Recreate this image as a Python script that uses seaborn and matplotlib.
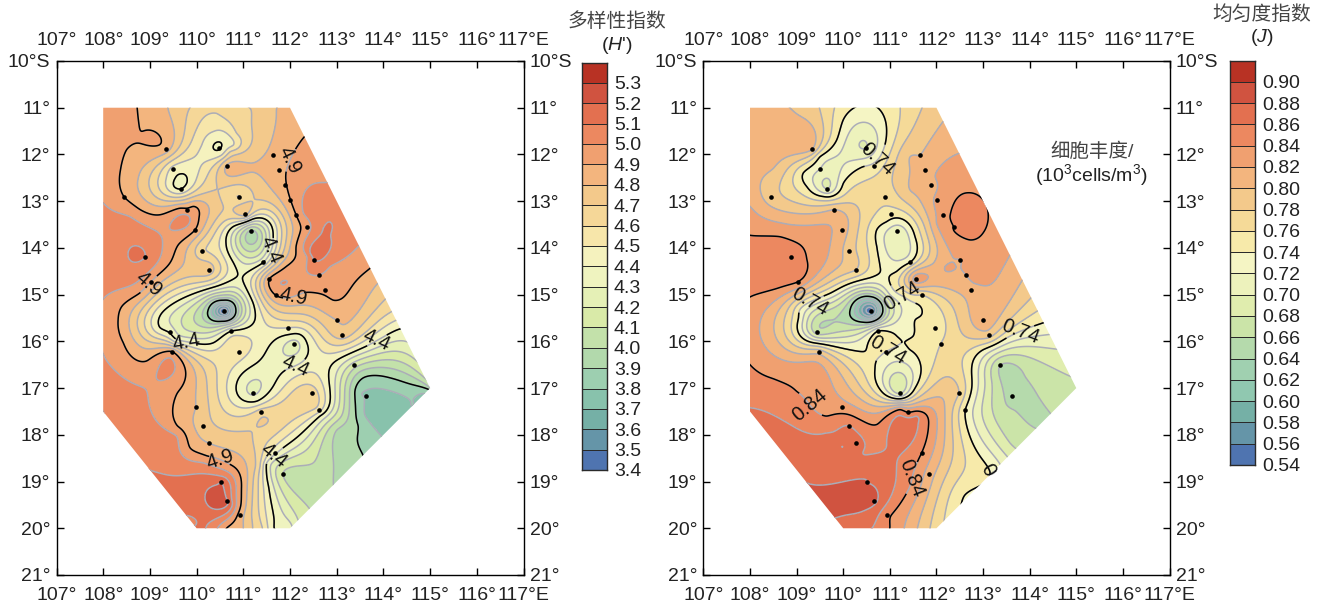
# Diversity and evenness maps, stations plus contour lines.

import numpy as np
import pandas as pd
import seaborn as sns
import matplotlib
matplotlib.use('Agg')
import matplotlib.pyplot as plt
from matplotlib.patches import Polygon

sns.set_theme(style='white')
plt.rcParams['font.family'] = ['Liberation Sans', 'Noto Sans CJK SC', 'DejaVu Sans']
plt.rcParams['mathtext.fontset'] = 'custom'
plt.rcParams['mathtext.rm'] = 'Liberation Sans'
plt.rcParams['mathtext.it'] = 'Liberation Sans:italic'

W, H = 1324, 606

# stations
station_lon = [109.34, 110.49, 109.50, 109.66, 108.45, 110.66, 111.64, 111.76, 111.89, 112.01,
               112.13, 112.37, 110.90, 111.03, 109.80, 109.97, 111.16, 110.12, 108.89, 110.27,
               111.43, 112.51, 112.63, 112.75, 111.56, 111.69, 110.59, 113.00, 113.12, 111.96,
               109.44, 110.74, 112.09, 110.91, 109.48, 113.37, 112.48, 111.21, 113.62, 109.98,
               112.62, 111.38, 110.13, 110.27, 111.85, 110.52, 110.66, 110.94, 109.02, 111.68]
station_lat = [11.89, 11.87, 12.31, 12.74, 12.91, 12.24, 12.02, 12.34, 12.66, 12.97,
               13.29, 13.55, 12.92, 13.27, 13.18, 13.61, 13.64, 14.06, 14.20, 14.47,
               14.31, 14.25, 14.58, 14.90, 14.66, 15.01, 15.36, 15.55, 15.86, 15.71,
               15.80, 15.78, 16.05, 16.22, 16.22, 16.51, 17.11, 17.10, 17.16, 17.41,
               17.46, 17.52, 17.81, 18.18, 18.83, 19.02, 19.41, 19.71, 14.73, 18.39]
h_station = [4.85, 4.39, 4.46, 4.40, 4.90, 4.82, 4.83, 4.87, 4.89, 4.90,
             4.90, 4.96, 4.60, 4.75, 4.92, 4.90, 3.98, 4.62, 5.10, 4.75,
             4.40, 5.10, 5.00, 4.92, 4.90, 4.90, 3.42, 4.80, 4.75, 4.50,
             4.38, 4.40, 4.26, 4.55, 4.90, 4.15, 4.65, 4.28, 3.80, 4.80,
             4.55, 4.66, 4.75, 4.80, 4.10, 5.20, 5.20, 4.85, 4.90, 4.42]
j_station = [0.80, 0.70, 0.72, 0.70, 0.79, 0.745, 0.80, 0.805, 0.81, 0.825,
             0.83, 0.84, 0.765, 0.75, 0.80, 0.81, 0.705, 0.79, 0.85, 0.78,
             0.74, 0.82, 0.82, 0.81, 0.83, 0.76, 0.55, 0.81, 0.79, 0.745,
             0.67, 0.74, 0.76, 0.74, 0.79, 0.66, 0.78, 0.695, 0.655, 0.83,
             0.74, 0.84, 0.86, 0.865, 0.81, 0.88, 0.885, 0.845, 0.84, 0.84]

# corner and edge readings
h_extra = [(108, 11, 4.97), (112, 11, 4.82), (108, 17.5, 5.10), (110, 20, 5.13), (112, 20, 4.35),
           (115, 17, 4.0), (110.5, 11.03, 4.66), (111.39, 18.1, 4.65), (113.9, 17.6, 3.75),
           (114.5, 17.45, 3.76), (108.2, 14.2, 5.06), (108.0, 13.8, 5.04), (108.0, 14.7, 5.04),
           (108.2, 17.0, 5.05), (108.5, 17.9, 5.07), (110.4, 19.3, 5.24), (109.77, 13.33, 5.02)]
j_extra = [(108, 11, 0.81), (112, 11, 0.79), (108, 17.5, 0.865), (110, 20, 0.87), (112, 20, 0.77),
           (115, 17, 0.675), (110.5, 11.03, 0.735), (113.6, 18.2, 0.68), (112.6, 19.3, 0.74),
           (108.5, 11.5, 0.81), (109.0, 11.3, 0.805), (108.0, 12.0, 0.805), (108.5, 12.3, 0.80),
           (110.97, 14.45, 0.735), (111.0, 15.0, 0.72)]

# contour lines, (level, [(lon, lat), ...])
h_lines = [
    (4.9, [(108.73, 11.03), (108.82, 11.51), (108.50, 11.90), (108.37, 12.33), (108.79, 13.18),
           (109.22, 13.29), (109.64, 13.15), (109.93, 13.11), (110.05, 13.36), (109.61, 13.93),
           (109.43, 14.32), (109.14, 14.61), (108.79, 14.96), (108.40, 15.25), (108.32, 15.53),
           (108.43, 16.03), (108.93, 16.42), (109.59, 17.10), (109.59, 17.81), (109.86, 18.28),
           (110.22, 18.45), (110.71, 18.63), (110.96, 19.17), (110.64, 20.0)]),
    (4.9, [(112.30, 11.63), (112.07, 11.97), (112.13, 13.97), (111.93, 14.39), (112.29, 14.96),
           (112.93, 15.12), (113.28, 14.89), (113.71, 14.44)]),
    (4.4, [(111.64, 13.75), (111.57, 13.47), (111.21, 13.38), (110.79, 13.54), (110.63, 13.90),
           (110.79, 14.32), (111.0, 14.6), (111.21, 15.18), (111.25, 15.53), (110.36, 16.03),
           (109.57, 15.96), (109.22, 15.71), (109.25, 15.40), (109.64, 15.11), (110.43, 14.82)]),
    (4.4, [(112.0, 15.85), (111.64, 16.0), (111.29, 16.46), (110.86, 16.89), (110.93, 17.21),
           (111.29, 17.28), (111.64, 16.96), (111.93, 16.60), (112.36, 16.32), (112.36, 16.03),
           (112.21, 15.85)]),
    (4.4, [(114.37, 15.73), (113.64, 16.10), (112.93, 16.46), (112.86, 17.10), (112.64, 17.6),
           (112.0, 18.17), (111.5, 18.6), (111.54, 19.1), (111.66, 20.0)]),
    (4.4, [(109.54, 12.51), (109.64, 12.42), (109.79, 12.61), (109.52, 12.69)]),
    (3.9, [(114.98, 17.03), (114.14, 16.78), (113.57, 16.78), (113.39, 17.17), (113.46, 17.81),
           (113.57, 18.45)]),
    (3.9, [(110.25, 15.32), (110.54, 15.57), (110.84, 15.32), (110.57, 15.12)]),
    (3.8, [(114.6, 17.39), (113.96, 18.03), (113.6, 17.57), (113.53, 17.13)]),
    (4.0, [(112.93, 19.06), (113.0, 17.9)]),
    (4.1, [(112.43, 19.6), (112.5, 18.6), (113.1, 17.6)]),
    (4.2, [(112.18, 19.84)]),
    (4.3, [(112.05, 20.0)]),
    (4.5, [(110.36, 11.51), (110.79, 11.8), (110.54, 12.01), (110.11, 11.80), (109.35, 12.51),
           (110.0, 12.51)]),
    (4.6, [(110.43, 11.12), (110.86, 11.55), (110.72, 11.94), (109.93, 11.62), (109.18, 12.51),
           (114.18, 15.36), (111.36, 18.67), (111.41, 20.0)]),
    (4.7, [(109.84, 11.03), (111.16, 11.03), (108.99, 12.51), (114.07, 15.07), (111.26, 18.67),
           (111.2, 20.0)]),
    (4.8, [(109.39, 11.03), (111.71, 11.03), (108.75, 12.51), (113.89, 14.75), (111.07, 18.67),
           (111.0, 20.0)]),
    (4.5, [(114.27, 15.55), (111.46, 18.55)]),
    (5.0, [(108.02, 13.06), (108.57, 13.33), (109.22, 13.72), (109.25, 14.11), (108.79, 14.68),
           (108.02, 15.07), (108.02, 16.32), (108.79, 16.96), (109.04, 17.53), (109.57, 18.03),
           (110.14, 18.6), (112.78, 12.6), (112.29, 13.26), (112.36, 14.18), (112.86, 14.40),
           (113.46, 13.97)]),
    (5.1, [(108.97, 18.74), (109.86, 18.85), (110.5, 18.88), (110.75, 19.38), (109.97, 19.95),
           (112.71, 13.58), (112.43, 14.11), (112.68, 14.25), (112.87, 13.75)]),
    (5.2, [(110.18, 19.31), (110.46, 19.06), (110.68, 19.45)]),
]

j_lines = [
    (0.84, [(108.0, 13.73), (108.64, 13.76), (109.07, 13.93), (109.22, 14.25), (109.14, 14.64),
            (108.57, 14.87), (108.0, 15.05)]),
    (0.84, [(112.36, 13.08), (112.68, 12.82), (113.0, 12.97), (113.11, 13.29), (113.0, 13.68),
            (112.72, 13.83), (112.36, 13.61), (112.29, 13.33)]),
    (0.84, [(108.0, 16.5), (108.5, 16.8), (109.0, 17.07), (109.64, 17.6), (110.29, 17.64),
            (110.72, 17.78), (111.22, 17.46), (111.65, 17.5), (111.83, 17.8), (111.43, 19.1),
            (111.07, 19.67), (111.0, 20.0)]),
    (0.74, [(110.22, 11.01), (110.9, 11.26), (110.93, 11.55), (110.86, 11.9), (110.43, 12.26),
            (110.0, 12.62), (109.57, 12.9), (109.22, 12.69), (109.14, 12.4), (109.5, 12.05),
            (109.86, 11.69), (110.0, 11.26)]),
    (0.74, [(110.72, 13.97), (110.72, 13.61), (110.93, 13.44), (111.36, 13.44), (111.54, 13.76),
            (111.5, 14.25), (111.15, 14.5), (110.79, 14.4), (110.57, 14.64), (109.72, 14.97),
            (109.07, 15.32), (109.04, 15.5), (109.04, 15.82), (109.43, 16.04), (110.14, 16.18),
            (110.47, 16.21), (111.15, 15.89), (111.5, 15.89), (111.54, 15.54), (111.4, 15.11),
            (111.29, 15.04)]),
    (0.74, [(110.79, 16.32), (110.68, 16.6), (110.79, 17.03), (111.22, 17.23), (111.54, 17.0),
            (111.67, 16.6), (111.43, 16.18)]),
    (0.74, [(114.3, 15.6), (113.5, 15.93), (113.0, 16.18), (112.76, 16.53), (112.72, 17.17),
            (113.04, 18.6), (113.15, 18.8)]),
    (0.64, [(110.15, 15.32), (110.57, 15.04), (110.85, 15.32), (110.43, 15.59)]),
    (0.86, [(108.0, 17.42), (108.86, 17.78), (109.64, 17.96), (110.07, 17.8), (110.0, 18.24),
            (110.43, 18.42), (110.93, 18.24), (111.58, 17.6), (111.61, 17.74), (111.15, 18.6),
            (111.08, 19.17), (110.65, 19.95)]),
    (0.88, [(109.22, 19.03), (110.5, 18.96), (110.75, 19.31), (110.5, 19.6), (109.86, 19.77)]),
    (0.82, [(112.58, 11.94), (111.97, 12.47), (112.0, 13.47), (112.18, 14.4), (112.79, 14.75),
            (113.58, 14.15), (108.0, 13.11), (108.86, 13.5), (109.64, 13.5)]),
    (0.80, [(112.14, 11.3), (111.43, 12.05), (111.43, 12.76), (111.86, 13.47), (111.93, 14.33),
            (113.85, 14.68)]),
    (0.76, [(114.15, 15.36)]),
    (0.72, [(112.9, 16.89)]),
    (0.70, [(113.04, 16.89)]),
    (0.68, [(113.19, 16.89)]),
    (0.66, [(113.5, 17.35), (113.67, 17.47), (114.18, 17.17), (113.9, 16.75)]),
]

region_lon = [108, 112, 115, 112, 110, 108]
region_lat = [11, 11, 17, 20, 20, 17.5]

lon_ticks = list(range(107, 118))
lat_ticks = list(range(10, 22))
lon_labels = [f'{v}°' for v in lon_ticks[:-1]] + ['117°E']
lat_labels = ['10°S'] + [f'{v}°' for v in lat_ticks[1:]]

h_levels = [3.4, 3.5, 3.6, 3.7, 3.8, 3.9, 4.0, 4.1, 4.2, 4.3, 4.4, 4.5, 4.6, 4.7, 4.8, 4.9, 5.0, 5.1, 5.2, 5.3, 5.4]
j_levels = [0.54, 0.56, 0.58, 0.60, 0.62, 0.64, 0.66, 0.68, 0.70, 0.72, 0.74, 0.76, 0.78, 0.80, 0.82, 0.84, 0.86, 0.88, 0.90, 0.92]

# low to high
h_colors = ['#4F74B0', '#6595A8', '#75B0A6', '#88C2AC', '#9DCFB0', '#B2D9AC', '#C3E1AA', '#D9EAA8',
            '#E5F0B6', '#EFF3BF', '#F5F2BE', '#F7E6AA', '#F5D798', '#F3C98B', '#F3B57E', '#F0A070',
            '#EC8860', '#E37050', '#D05340', '#B83224']
j_colors = ['#4F74B0', '#6595A8', '#75B0A6', '#90C8B0', '#A0D0B0', '#B5DAAC', '#CBE4A8', '#E0EDAE',
            '#EDF2BC', '#F5F5C4', '#F7EAAA', '#F5DA98', '#F3C98B', '#F3B57E', '#F0A070', '#EC8860',
            '#E37050', '#D05340', '#B83224']

h_label_pos = [(112.14, 12.2), (108.99, 14.8), (112.06, 14.95), (110.49, 18.55), (111.5, 14.0),
               (109.78, 15.98), (112.1, 16.46), (113.85, 15.95), (111.7, 18.51)]
j_label_pos = [(110.72, 12.08), (109.3, 15.2), (111.29, 14.96), (111.0, 16.3), (113.8, 15.8),
               (109.3, 17.35), (111.4, 18.9)]


def px_axes(fig, x0, x1, y0, y1):
    return fig.add_axes([x0 / W, 1 - y1 / H, (x1 - x0) / W, (y1 - y0) / H])


def thin_plate(px, py, pv, gx, gy, lam=1e-3):
    # smooth surface through the readings
    def kernel(r2):
        return 0.5 * r2 * np.log(np.maximum(r2, 1e-12))
    n = len(px)
    r2 = (px[:, None] - px[None, :]) ** 2 + (py[:, None] - py[None, :]) ** 2
    P = np.column_stack([np.ones(n), px, py])
    A = np.zeros((n + 3, n + 3))
    A[:n, :n] = kernel(r2) + lam * np.eye(n)
    A[:n, n:] = P
    A[n:, :n] = P.T
    coef = np.linalg.lstsq(A, np.concatenate([pv, np.zeros(3)]), rcond=None)[0]
    g2 = (gx.ravel()[:, None] - px[None, :]) ** 2 + (gy.ravel()[:, None] - py[None, :]) ** 2
    z = kernel(g2) @ coef[:n] + coef[n] + coef[n + 1] * gx.ravel() + coef[n + 2] * gy.ravel()
    return z.reshape(gx.shape)


def map_panel(ax, station_val, extra, lines, levels, colors, major, fmt, label_pos):
    lon = list(station_lon) + [e[0] for e in extra]
    lat = list(station_lat) + [e[1] for e in extra]
    val = list(station_val) + [e[2] for e in extra]
    for level, pts in lines:
        for p in pts:
            lon.append(p[0])
            lat.append(p[1])
            val.append(level)
    gx, gy = np.meshgrid(np.linspace(107.9, 115.1, 330), np.linspace(10.9, 20.1, 420))
    # work in units of the level step so lam means the same for both panels
    step = levels[1] - levels[0]
    z = thin_plate(np.array(lon), np.array(lat), np.array(val) / step, gx, gy) * step

    region = Polygon(np.column_stack([region_lon, region_lat]), closed=True, transform=ax.transData,
                     fc='none', ec='none')
    ax.add_patch(region)
    pal = sns.color_palette(colors)
    cf = ax.contourf(gx, gy, z, levels=levels, colors=pal, extend='both')
    cf.cmap.set_under(colors[0])
    cf.cmap.set_over(colors[-1])
    cf.changed()
    cf.set_clip_path(region)
    gray = ax.contour(gx, gy, z, levels=levels, colors='#ABADB8', linewidths=1.1)
    gray.set_clip_path(region)
    black = ax.contour(gx, gy, z, levels=major, colors='black', linewidths=1.1)
    black.set_clip_path(region)
    ax.clabel(black, manual=label_pos, fmt=fmt, fontsize=14.5, inline=True, inline_spacing=1, colors='#111111')

    df = pd.DataFrame({'lon': station_lon, 'lat': station_lat})
    sns.scatterplot(data=df, x='lon', y='lat', ax=ax, color='black', s=11, linewidth=0, zorder=5, legend=False)

    ax.set_xlim(107, 117)
    ax.set_ylim(21, 10)
    ax.set_xticks(lon_ticks)
    ax.set_yticks(lat_ticks)
    ax.set_xticklabels(lon_labels)
    ax.set_yticklabels(lat_labels)
    ax.set_xlabel('')
    ax.set_ylabel('')
    ax.tick_params(axis='both', which='major', direction='in', length=5, width=1, color='black',
                   top=True, bottom=True, left=True, right=True,
                   labeltop=True, labelbottom=True, labelleft=True, labelright=True,
                   labelsize=14, labelcolor='#222222')
    ax.tick_params(axis='x', pad=8.5)
    ax.tick_params(axis='y', pad=4.5)
    for s in ax.spines.values():
        s.set_visible(True)
        s.set_color('black')
        s.set_linewidth(1.0)


def level_bar(ax, levels, colors, fmt):
    vals = np.array(levels[:-1])[::-1].reshape(-1, 1)
    sns.heatmap(vals, ax=ax, cmap=colors, cbar=False, linewidths=0.7, linecolor='#2A2A2A',
                xticklabels=False, yticklabels=False)
    ax.yaxis.tick_right()
    ax.set_yticks(np.arange(1, len(levels)))
    ax.set_yticklabels([fmt % v for v in levels[-2::-1]], rotation=0)
    ax.tick_params(axis='y', length=0, labelsize=14, labelcolor='#222222', pad=5)
    for s in ax.spines.values():
        s.set_visible(True)
        s.set_color('#2A2A2A')
        s.set_linewidth(1.0)


fig = plt.figure(figsize=(W / 100, H / 100), dpi=100, facecolor='white')

ax1 = px_axes(fig, 56.5, 523.5, 61, 575)
map_panel(ax1, h_station, h_extra, h_lines, h_levels, h_colors, [3.9, 4.4, 4.9], '%.1f', h_label_pos)
ax2 = px_axes(fig, 703.4, 1169.5, 61, 575)
map_panel(ax2, j_station, j_extra, j_lines, j_levels, j_colors, [0.64, 0.74, 0.84], '%.2f', j_label_pos)
ax2.text(113.1, 18.75, '0', fontsize=14.5, rotation=-60, ha='center', va='center', color='#111111')

bar1 = px_axes(fig, 581.5, 607, 62.5, 470)
level_bar(bar1, h_levels, h_colors, '%.1f')
bar2 = px_axes(fig, 1229.5, 1255, 60.5, 465)
level_bar(bar2, j_levels, j_colors, '%.2f')

fig.text(617 / W, 1 - 21 / H, '多样性指数', fontsize=14.2, color='#444444', ha='center', va='center')
fig.text(617 / W, 1 - 45 / H, "($\\mathit{H}$')", fontsize=14, color='#222222', ha='center', va='center')
fig.text(1262 / W, 1 - 14 / H, '均匀度指数', fontsize=14.2, color='#444444', ha='center', va='center')
fig.text(1262 / W, 1 - 38 / H, '($\\mathit{J}$)', fontsize=14, color='#222222', ha='center', va='center')
fig.text(1092 / W, 1 - 152 / H, '细胞丰度/', fontsize=14, color='#444444', ha='center', va='center')
fig.text(1091 / W, 1 - 175 / H, '(10$^{3}$cells/m$^{3}$)', fontsize=14, color='#222222', ha='center', va='center')

fig.savefig('out.png', dpi=100)
